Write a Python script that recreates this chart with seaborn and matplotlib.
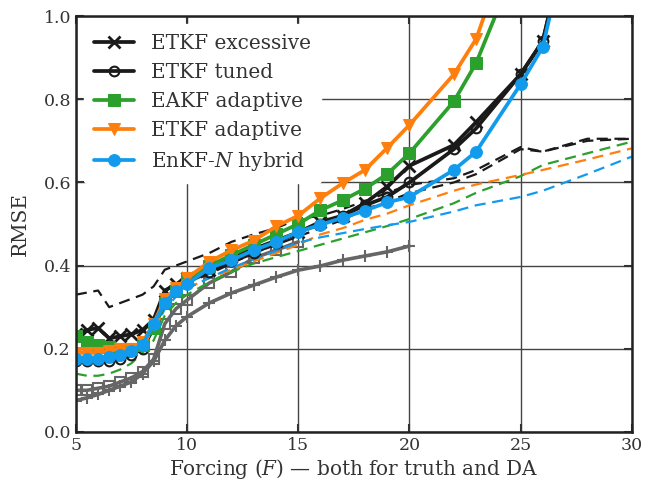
import numpy as np
import pandas as pd
import seaborn as sns
import matplotlib.pyplot as plt

# Forcing values used in the experiments
F_all = [5, 5.5, 6, 6.5, 7, 7.5, 8, 8.5, 9, 9.5, 10,
         11, 12, 13, 14, 15, 16, 17, 18, 19, 20,
         22, 23, 25, 26, 28, 30]
F_to20 = F_all[:21]
F_to15 = F_all[:16]

# Solid lines (with markers)
etkf_excessive = [0.235, 0.245, 0.25, 0.225, 0.23, 0.235, 0.245, 0.27, 0.34, 0.355, 0.37,
                  0.39, 0.42, 0.44, 0.46, 0.48, 0.505, 0.52, 0.55, 0.59, 0.64,
                  0.69, 0.745, 0.86, 0.94, 1.4, 1.9]
etkf_tuned = [0.17, 0.17, 0.17, 0.17, 0.175, 0.185, 0.2, 0.25, 0.31, 0.34, 0.36,
              0.385, 0.41, 0.43, 0.455, 0.48, 0.5, 0.52, 0.545, 0.565, 0.60,
              0.68, 0.73, 0.86, 0.94, 1.4, 1.9]
eakf_adaptive = [0.23, 0.215, 0.21, 0.205, 0.2, 0.2, 0.21, 0.25, 0.31, 0.34, 0.365,
                 0.4, 0.425, 0.45, 0.475, 0.5, 0.533, 0.557, 0.585, 0.62, 0.67,
                 0.795, 0.887, 1.15, 1.3, 1.6, 2.0]
etkf_adaptive = [0.19, 0.19, 0.19, 0.195, 0.2, 0.2, 0.215, 0.26, 0.32, 0.345, 0.37,
                 0.409, 0.437, 0.46, 0.494, 0.52, 0.562, 0.598, 0.63, 0.683, 0.738,
                 0.86, 0.945, 1.25, 1.4, 1.7, 2.0]
enkfn_hybrid = [0.175, 0.175, 0.175, 0.18, 0.185, 0.195, 0.21, 0.26, 0.31, 0.34, 0.355,
                0.394, 0.413, 0.437, 0.457, 0.481, 0.498, 0.515, 0.532, 0.552, 0.565,
                0.63, 0.674, 0.836, 0.926, 1.4, 1.9]

# Dashed lines (no markers)
etkf_excessive_d = [0.33, 0.335, 0.34, 0.30, 0.31, 0.32, 0.33, 0.35, 0.39, 0.40, 0.41,
                    0.43, 0.457, 0.475, 0.49, 0.512, 0.52, 0.536, 0.555, 0.575, 0.594,
                    0.61, 0.63, 0.685, 0.674, 0.705, 0.705]
etkf_tuned_d = [0.19, 0.19, 0.19, 0.19, 0.195, 0.2, 0.21, 0.25, 0.31, 0.34, 0.358,
                0.38, 0.405, 0.43, 0.45, 0.47, 0.49, 0.51, 0.535, 0.554, 0.574,
                0.60, 0.62, 0.68, 0.674, 0.70, 0.705]
eakf_adaptive_d = [0.14, 0.135, 0.135, 0.14, 0.15, 0.165, 0.19, 0.22, 0.28, 0.31, 0.33,
                   0.36, 0.385, 0.405, 0.42, 0.435, 0.45, 0.465, 0.48, 0.495, 0.512,
                   0.55, 0.575, 0.615, 0.642, 0.67, 0.698]
etkf_adaptive_d = [0.18, 0.18, 0.18, 0.185, 0.19, 0.195, 0.21, 0.25, 0.30, 0.33, 0.345,
                   0.37, 0.39, 0.41, 0.43, 0.45, 0.475, 0.49, 0.51, 0.525, 0.545,
                   0.58, 0.595, 0.618, 0.63, 0.655, 0.682]
enkfn_hybrid_d = [0.17, 0.17, 0.17, 0.175, 0.18, 0.19, 0.205, 0.245, 0.295, 0.325, 0.345,
                  0.37, 0.395, 0.415, 0.435, 0.455, 0.468, 0.478, 0.488, 0.497, 0.505,
                  0.53, 0.545, 0.565, 0.58, 0.62, 0.662]

# Gray reference lines
gray_squares = [0.1, 0.1, 0.105, 0.11, 0.12, 0.13, 0.145, 0.175, 0.26, 0.296, 0.317,
                0.358, 0.385, 0.418, 0.437, 0.457]
gray_plus = [0.075, 0.082, 0.09, 0.1, 0.11, 0.12, 0.14, 0.17, 0.22, 0.255, 0.277,
             0.31, 0.334, 0.353, 0.372, 0.389, 0.399, 0.413, 0.423, 0.433, 0.447]

sns.set_style("ticks")
plt.rcParams['font.family'] = ['DejaVu Serif']
plt.rcParams['mathtext.fontset'] = 'dejavuserif'

black = '#1a1a1a'
green = '#2ca02c'
orange = '#ff7f0e'
blue = '#129bec'
gray = '#666666'

fig = plt.figure(figsize=(6.48, 4.88), dpi=100)
ax = fig.add_axes([0.117, 0.115, 0.858, 0.852])

ax.grid(True, color='#444444', lw=1.0)
ax.set_axisbelow(True)

# gray lines
sns.lineplot(x=F_to15, y=gray_squares, ax=ax, color=gray, lw=2.6, marker='s',
             markersize=7, markerfacecolor='none', markeredgecolor=gray,
             markeredgewidth=1.5)
sns.lineplot(x=F_to20, y=gray_plus, ax=ax, color=gray, lw=2.6, marker='+',
             markersize=8, markeredgewidth=1.5, markeredgecolor=gray)

# dashed lines
dashed = [(etkf_excessive_d, black), (etkf_tuned_d, black),
          (eakf_adaptive_d, green), (etkf_adaptive_d, orange),
          (enkfn_hybrid_d, blue)]
for vals, c in dashed:
    sns.lineplot(x=F_all, y=vals, ax=ax, color=c, lw=1.6, linestyle=(0, (5, 3)))

# solid lines with markers
solid = [
    (etkf_excessive, black, 'x', 'ETKF excessive', dict(markersize=8, markeredgewidth=2)),
    (etkf_tuned, black, 'o', 'ETKF tuned', dict(markersize=7, markerfacecolor='none',
                                               markeredgewidth=1.5)),
    (eakf_adaptive, green, 's', 'EAKF adaptive', dict(markersize=8)),
    (etkf_adaptive, orange, 'v', 'ETKF adaptive', dict(markersize=9)),
    (enkfn_hybrid, blue, 'o', r'EnKF-$N$ hybrid', dict(markersize=8.5)),
]
for vals, c, m, lab, kw in solid:
    sns.lineplot(x=F_all, y=vals, ax=ax, color=c, lw=2.7, marker=m,
                 markeredgecolor=c, label=lab, **kw)

ax.set_xlim(5, 30)
ax.set_ylim(0, 1)
ax.set_xticks([5, 10, 15, 20, 25, 30])
ax.set_yticks([0.0, 0.2, 0.4, 0.6, 0.8, 1.0])
ax.tick_params(direction='in', length=6, width=1.5, top=True, right=True,
               labelsize=12.5, colors='#333333', labelcolor='#333333')
for s in ax.spines.values():
    s.set_linewidth(1.8)
    s.set_color('#222222')

ax.set_xlabel(r'Forcing ($F$) — both for truth and DA', fontsize=14.4, color='#333333',
              labelpad=2)
ax.set_ylabel('RMSE', fontsize=14.4, color='#333333', labelpad=10)

leg = ax.legend(loc='upper left', fontsize=14.4, frameon=True, framealpha=1,
                edgecolor='white', handlelength=2.0, handletextpad=0.85,
                borderaxespad=0.4, borderpad=0.5, labelspacing=0.5)
for t in leg.get_texts():
    t.set_color('#333333')

fig.savefig('out.png', dpi=100)
